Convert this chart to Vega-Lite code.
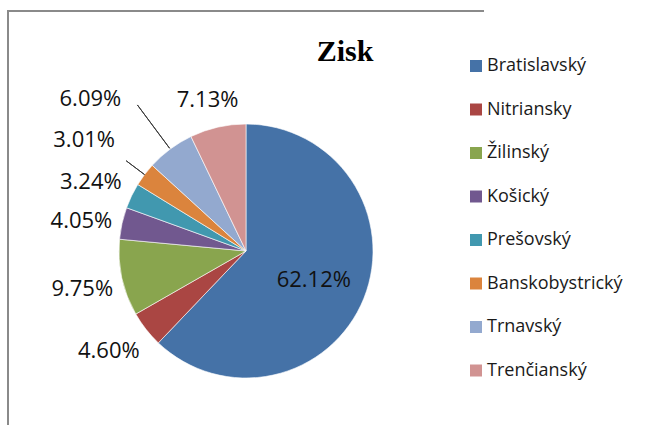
{
  "$schema": "https://vega.github.io/schema/vega-lite/v6.json",
  "autosize": "none",
  "width": 476,
  "height": 480,
  "padding": {"left": 8, "top": 11, "right": 184, "bottom": 0},
  "background": "#ffffff",
  "view": {"stroke": "#8a8a8a", "strokeWidth": 2, "strokeDash": [476, 956, 480, 1]},
  "config": {
    "font": "Open Sans"
  },
  "title": {
    "text": "Zisk",
    "font": "Liberation Serif",
    "fontSize": 30,
    "fontWeight": "bold",
    "color": "#000000",
    "anchor": "middle",
    "frame": "group",
    "baseline": "alphabetic",
    "offset": 0,
    "dx": 99,
    "dy": 80
  },
  "data": {
    "values": [
      {"region": "Bratislavský", "share": 0.6212, "order": 1},
      {"region": "Nitriansky", "share": 0.0460, "order": 2},
      {"region": "Žilinský", "share": 0.0975, "order": 3},
      {"region": "Košický", "share": 0.0405, "order": 4},
      {"region": "Prešovský", "share": 0.0324, "order": 5},
      {"region": "Banskobystrický", "share": 0.0301, "order": 6},
      {"region": "Trnavský", "share": 0.0609, "order": 7},
      {"region": "Trenčianský", "share": 0.0713, "order": 8}
    ]
  },
  "encoding": {
    "theta": {"field": "share", "type": "quantitative", "stack": true},
    "order": {"field": "order", "type": "quantitative"}
  },
  "layer": [
    {
      "mark": {"type": "arc", "radius": 127, "stroke": "#ffffff", "strokeWidth": 0.6},
      "encoding": {
        "color": {
          "field": "region",
          "type": "nominal",
          "scale": {
            "domain": ["Bratislavský", "Nitriansky", "Žilinský", "Košický", "Prešovský", "Banskobystrický", "Trnavský", "Trenčianský"],
            "range": ["#4572A7", "#AA4643", "#89A54E", "#71588F", "#4198AF", "#DB843D", "#93A9CF", "#D19392"]
          },
          "legend": {
            "title": null,
            "orient": "none",
            "legendX": 459,
            "legendY": 46,
            "symbolType": "square",
            "symbolSize": 144,
            "symbolStrokeWidth": 0,
            "labelFont": "Open Sans",
            "labelFontSize": 18,
            "labelColor": "#1a1a1a",
            "labelOffset": 2,
            "rowPadding": 25.5,
            "labelLimit": 300
          }
        }
      }
    },
    {
      "mark": {"type": "arc", "radius": 182, "radius2": 128, "padAngle": 3, "fillOpacity": 0, "stroke": "#3a3a3a", "strokeWidth": 1},
      "encoding": {
        "detail": {"field": "region"},
        "strokeOpacity": {"condition": {"test": "datum.region === 'Trnavský'", "value": 1}, "value": 0}
      }
    },
    {
      "mark": {"type": "arc", "radius": 150, "radius2": 127, "padAngle": 3, "fillOpacity": 0, "stroke": "#3a3a3a", "strokeWidth": 1},
      "encoding": {
        "detail": {"field": "region"},
        "strokeOpacity": {"condition": {"test": "datum.region === 'Banskobystrický'", "value": 1}, "value": 0}
      }
    },
    {
      "mark": {"type": "text", "radius": 73, "align": "center", "baseline": "middle", "dy": 2, "font": "Open Sans", "fontSize": 22, "color": "#111111"},
      "encoding": {
        "detail": {"field": "region"},
        "text": {"condition": {"test": "datum.region === 'Bratislavský'", "field": "share", "type": "quantitative", "format": ".2%"}, "value": ""}
      }
    },
    {
      "mark": {"type": "text", "radius": 135, "align": "right", "baseline": "middle", "dy": 17, "font": "Open Sans", "fontSize": 22, "color": "#111111"},
      "encoding": {
        "detail": {"field": "region"},
        "text": {"condition": {"test": "datum.region === 'Nitriansky'", "field": "share", "type": "quantitative", "format": ".2%"}, "value": ""}
      }
    },
    {
      "mark": {"type": "text", "radius": 136, "align": "right", "baseline": "middle", "dy": 9, "font": "Open Sans", "fontSize": 22, "color": "#111111"},
      "encoding": {
        "detail": {"field": "region"},
        "text": {"condition": {"test": "datum.region === 'Žilinský'", "field": "share", "type": "quantitative", "format": ".2%"}, "value": ""}
      }
    },
    {
      "mark": {"type": "text", "radius": 137, "align": "right", "baseline": "middle", "dy": 0, "font": "Open Sans", "fontSize": 22, "color": "#111111"},
      "encoding": {
        "detail": {"field": "region"},
        "text": {"condition": {"test": "datum.region === 'Košický'", "field": "share", "type": "quantitative", "format": ".2%"}, "value": ""}
      }
    },
    {
      "mark": {"type": "text", "radius": 138, "align": "right", "baseline": "middle", "dy": -9, "font": "Open Sans", "fontSize": 22, "color": "#111111"},
      "encoding": {
        "detail": {"field": "region"},
        "text": {"condition": {"test": "datum.region === 'Prešovský'", "field": "share", "type": "quantitative", "format": ".2%"}, "value": ""}
      }
    },
    {
      "mark": {"type": "text", "radius": 164, "align": "right", "baseline": "middle", "dy": -12, "font": "Open Sans", "fontSize": 22, "color": "#111111"},
      "encoding": {
        "detail": {"field": "region"},
        "text": {"condition": {"test": "datum.region === 'Banskobystrický'", "field": "share", "type": "quantitative", "format": ".2%"}, "value": ""}
      }
    },
    {
      "mark": {"type": "text", "radius": 189, "align": "right", "baseline": "middle", "dx": -12, "font": "Open Sans", "fontSize": 22, "color": "#111111"},
      "encoding": {
        "detail": {"field": "region"},
        "text": {"condition": {"test": "datum.region === 'Trnavský'", "field": "share", "type": "quantitative", "format": ".2%"}, "value": ""}
      }
    },
    {
      "mark": {"type": "text", "radius": 155, "align": "center", "baseline": "middle", "dx": -4, "font": "Open Sans", "fontSize": 22, "color": "#111111"},
      "encoding": {
        "detail": {"field": "region"},
        "text": {"condition": {"test": "datum.region === 'Trenčianský'", "field": "share", "type": "quantitative", "format": ".2%"}, "value": ""}
      }
    }
  ]
}
